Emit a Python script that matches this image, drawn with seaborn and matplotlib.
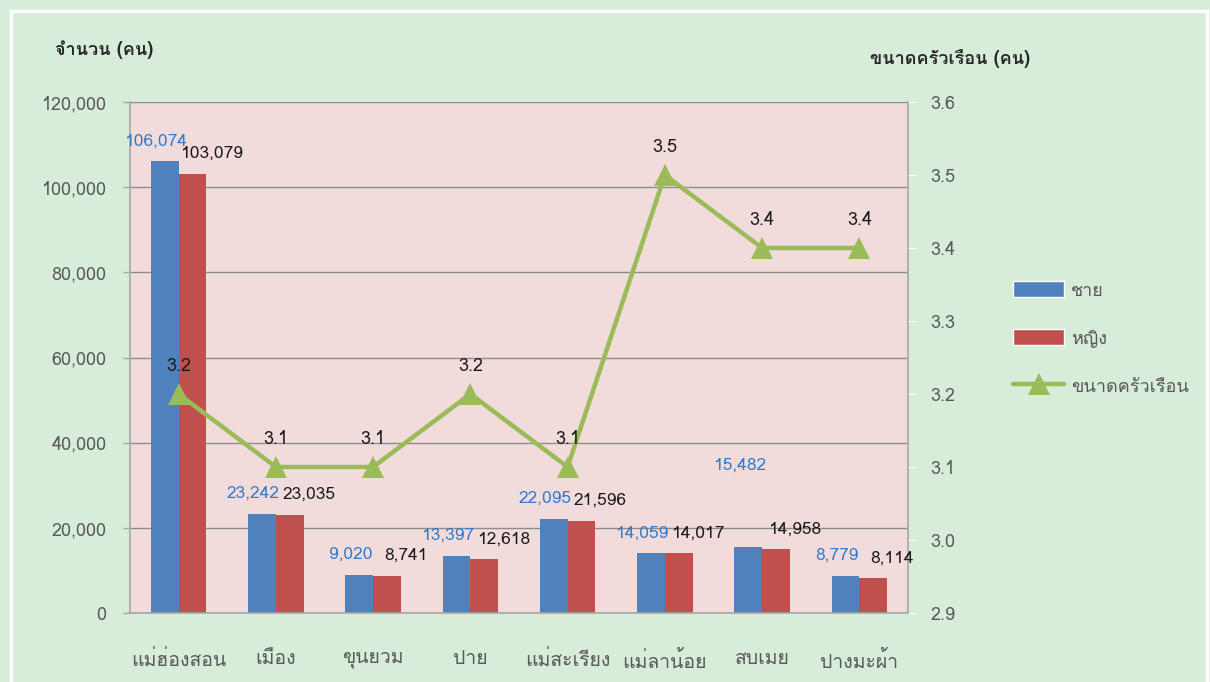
import matplotlib
matplotlib.use("Agg")
import matplotlib.pyplot as plt
from matplotlib import font_manager
from matplotlib.ft2font import FT2Font
from matplotlib.patches import Rectangle, Patch
from matplotlib.lines import Line2D
import numpy as np
import pandas as pd
import seaborn as sns

districts = ['แม่ฮ่องสอน', 'เมือง', 'ขุนยวม', 'ปาย', 'แม่สะเรียง', 'แม่ลาน้อย', 'สบเมย', 'ปางมะผ้า']
male = [106074, 23242, 9020, 13397, 22095, 14059, 15482, 8779]
female = [103079, 23035, 8741, 12618, 21596, 14017, 14958, 8114]
household = [3.2, 3.1, 3.1, 3.2, 3.1, 3.5, 3.4, 3.4]
series_names = ['ชาย', 'หญิง', 'ขนาดครัวเรือน']

# find a font that actually has Thai glyphs
thai_font = None
for f in font_manager.fontManager.ttflist:
    try:
        if FT2Font(f.fname).get_char_index(ord('ก')):
            thai_font = f.name
            break
    except Exception:
        pass

sns.set_style('white')
families = ([thai_font] if thai_font else []) + ['DejaVu Sans']
plt.rcParams['font.family'] = families

bg = '#d7ecd9'
plot_bg = '#f2dcdb'
blue = '#4f81bd'
red = '#c0504d'
green = '#9bbb59'
grid_c = '#8c8c8c'
tick_c = '#595959'

df = pd.DataFrame({
    'district': districts * 2,
    'sex': [series_names[0]] * len(districts) + [series_names[1]] * len(districts),
    'count': male + female,
})

fig = plt.figure(figsize=(12.1, 6.82), dpi=100, facecolor=bg)
fig.patches.append(Rectangle((11 / 1210, -0.05), 1196 / 1210, 1.05 - 11 / 682,
                             transform=fig.transFigure, fill=False,
                             edgecolor='white', linewidth=2.5))

ax = fig.add_axes([130 / 1210, 1 - 613 / 682, 778 / 1210, 511 / 682])
ax.set_facecolor(plot_bg)
sns.barplot(data=df, x='district', y='count', hue='sex', order=districts,
            palette=[blue, red], width=0.57, ax=ax, legend=False, saturation=1,
            linewidth=0)

ax.set_ylim(0, 120000)
ax.set_xlim(-0.5, len(districts) - 0.5)
ax.set_yticks(range(0, 120001, 20000))
ax.set_yticklabels([f'{v:,}' for v in range(0, 120001, 20000)])
ax.set_axisbelow(True)
ax.yaxis.grid(True, color=grid_c, linewidth=1)
ax.set_xlabel('')
ax.set_ylabel('')

ax.spines['top'].set_visible(False)
for s in ['left', 'right', 'bottom']:
    ax.spines[s].set_color('#a6a6a6')
    ax.spines[s].set_linewidth(1.2)

ax.tick_params(axis='y', colors='#a6a6a6', labelcolor=tick_c, labelsize=13,
               length=5, width=1, direction='out', pad=12)
ax.set_xticks(np.arange(len(districts)))
ax.set_xticklabels(districts)
ax.set_xticks(np.arange(len(districts) + 1) - 0.5, minor=True)
ax.tick_params(axis='x', which='major', length=0, labelsize=14, labelcolor=tick_c, pad=27)
ax.tick_params(axis='x', which='minor', length=6, width=1, color='#a6a6a6', direction='out')

# bar value labels
bw = 0.57 / 2
lift = {6: 1.45e4}  # 15,482 sits higher in the original
for i in range(len(districts)):
    ax.annotate(f'{male[i]:,}', (i - bw / 2, male[i] + lift.get(i, 0)),
                xytext=(-9, 20), textcoords='offset pixels',
                ha='center', va='center', color='#2e7bcf', fontsize=12.5)
    ax.annotate(f'{female[i]:,}', (i + bw / 2, female[i]),
                xytext=(19, 20), textcoords='offset pixels',
                ha='center', va='center', color='#1a1a1a', fontsize=12.5)

ax2 = ax.twinx()
sns.lineplot(x=np.arange(len(districts)), y=household, ax=ax2, color=green,
             linewidth=3.2, marker='^', markersize=16, markeredgewidth=0, legend=False)
ax2.set_ylim(2.9, 3.6)
ax2.set_xlim(-0.5, len(districts) - 0.5)
ax2.set_yticks(np.round(np.arange(2.9, 3.61, 0.1), 1))
ax2.set_yticklabels([f'{v:.1f}' for v in np.arange(2.9, 3.61, 0.1)])
ax2.tick_params(axis='y', labelsize=13, labelcolor=tick_c, color='#ffffff', length=6, pad=10)
ax2.set_ylabel('')
for s in ['top', 'left', 'bottom', 'right']:
    ax2.spines[s].set_visible(False)
for i, v in enumerate(household):
    ax2.annotate(f'{v:.1f}', (i, v), xytext=(0, 28), textcoords='offset pixels',
                 ha='center', va='center', color='#1a1a1a', fontsize=13)

fig.text(55 / 1210, 1 - 50 / 682, 'จำนวน (คน)', fontsize=13, fontweight='bold',
         color='#262626', ha='left', va='center')
fig.text(870 / 1210, 1 - 58 / 682, 'ขนาดครัวเรือน (คน)', fontsize=13, fontweight='bold',
         color='#262626', ha='left', va='center')

handles = [Patch(facecolor=blue), Patch(facecolor=red),
           Line2D([], [], color=green, linewidth=3.2, marker='^', markersize=16, markeredgewidth=0)]
fig.legend(handles, series_names, loc='upper left', bbox_to_anchor=(997 / 1210, 1 - 265 / 682),
           frameon=False, fontsize=13, handlelength=2.8, handleheight=1.0,
           labelspacing=1.65, handletextpad=0.4, labelcolor=tick_c)

fig.savefig('out.png', dpi=100, facecolor=bg)
